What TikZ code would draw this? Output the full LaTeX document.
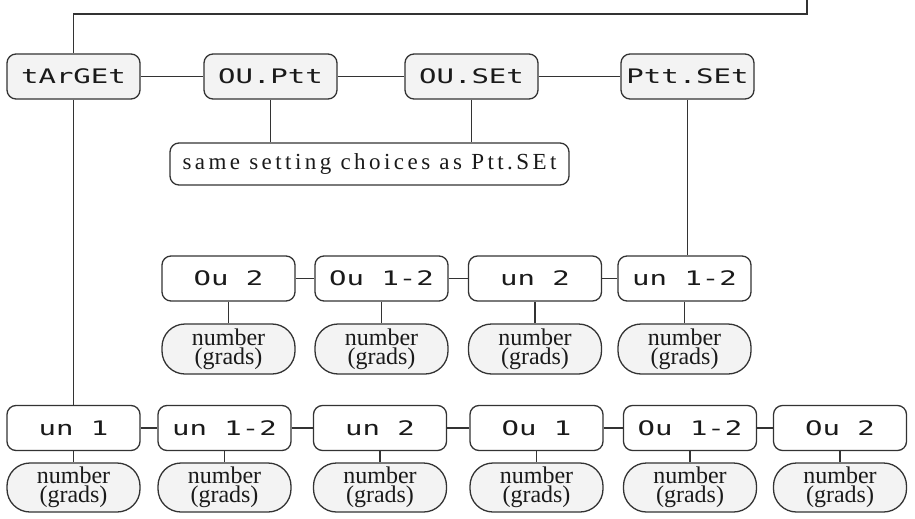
\documentclass[tikz,border=0pt]{standalone}
\usepackage{fontspec}
\usepackage{graphicx}
\setmainfont{Liberation Serif}
\newfontfamily\segfont{DejaVu Sans Mono}
\newfontfamily\spacedserif[LetterSpace=15]{Liberation Serif}

\definecolor{linecol}{HTML}{333333}
\definecolor{textcol}{HTML}{1A1A1A}
\definecolor{panel}{HTML}{F3F3F3}

% seven-segment style read-out text
\newcommand\lcd[1]{\scalebox{1.45}[1]{\segfont\fontsize{20}{20}\selectfont #1}}

\tikzset{
  link/.style={draw=linecol, line width=1.3pt},
  disp/.style={draw=linecol, line width=1.3pt, rounded corners=9pt,
    minimum width=133pt, minimum height=45pt, inner sep=0pt, text=textcol},
  menu/.style={disp, fill=panel},
  choice/.style={disp, fill=white},
  value/.style={draw=linecol, line width=1.3pt, fill=panel, rounded corners=23pt,
    minimum width=133pt, minimum height=49pt, inner sep=0pt, align=center,
    text=textcol, font=\fontsize{24}{19}\selectfont},
  note/.style={draw=linecol, line width=1.3pt, fill=white, rounded corners=9pt,
    minimum width=399pt, minimum height=42pt, inner sep=0pt, text=textcol,
    font=\spacedserif\fontsize{23}{23}\selectfont},
}

\begin{document}
\begin{tikzpicture}[x=1pt, y=-1pt]
  \useasboundingbox (0,0) rectangle (915,519);

  % top menu row
  \node[menu] (target) at (73.5,76.5) {\lcd{tArGEt}};
  \node[menu] (ouptt)  at (270.5,76.5) {\lcd{OU.Ptt}};
  \node[menu] (ouset)  at (471.5,76.5) {\lcd{OU.SEt}};
  \node[menu] (pttset) at (687.5,76.5) {\lcd{Ptt.SEt}};

  \node[note] (same) at (369.5,164) {same setting choices as Ptt.SEt};

  % Ptt.SEt choices
  \node[choice] (m1) at (228.5,278.5) {\lcd{Ou 2}};
  \node[choice] (m2) at (381.5,278.5) {\lcd{Ou 1-2}};
  \node[choice] (m3) at (535,278.5)   {\lcd{un 2}};
  \node[choice] (m4) at (684.5,278.5) {\lcd{un 1-2}};
  \foreach \i in {1,...,4}
    \node[value, minimum height=50pt] (mv\i) at (m\i |- 0,349) {number\\(grads)};

  % tArGEt choices
  \node[choice] (b1) at (73.5,428)  {\lcd{un 1}};
  \node[choice] (b2) at (224.5,428) {\lcd{un 1-2}};
  \node[choice] (b3) at (380,428)   {\lcd{un 2}};
  \node[choice] (b4) at (536.5,428) {\lcd{Ou 1}};
  \node[choice] (b5) at (690,428)   {\lcd{Ou 1-2}};
  \node[choice] (b6) at (840,428)   {\lcd{Ou 2}};
  \foreach \i in {1,...,6}
    \node[value] (bv\i) at (b\i |- 0,487.5) {number\\(grads)};

  % connectors
  \coordinate (entry) at (807,0);
  \draw[link] (entry) -- ++(0,14) -| (target.north);
  \draw[link] (target) -- (ouptt) -- (ouset) -- (pttset);
  \draw[link] (ouptt.south) -- (ouptt.south |- same.north);
  \draw[link] (ouset.south) -- (ouset.south |- same.north);
  \draw[link] (pttset.south) -- (pttset.south |- m4.north);
  \draw[link] (target.south) -- (b1.north);
  \draw[link] (m1) -- (m2) -- (m3) -- (m4);
  \draw[link] (b1) -- (b2) -- (b3) -- (b4) -- (b5) -- (b6);
  \foreach \i in {1,...,4}
    \draw[link] (m\i.south) -- (mv\i.north);
  \foreach \i in {1,...,6}
    \draw[link] (b\i.south) -- (bv\i.north);
\end{tikzpicture}
\end{document}
